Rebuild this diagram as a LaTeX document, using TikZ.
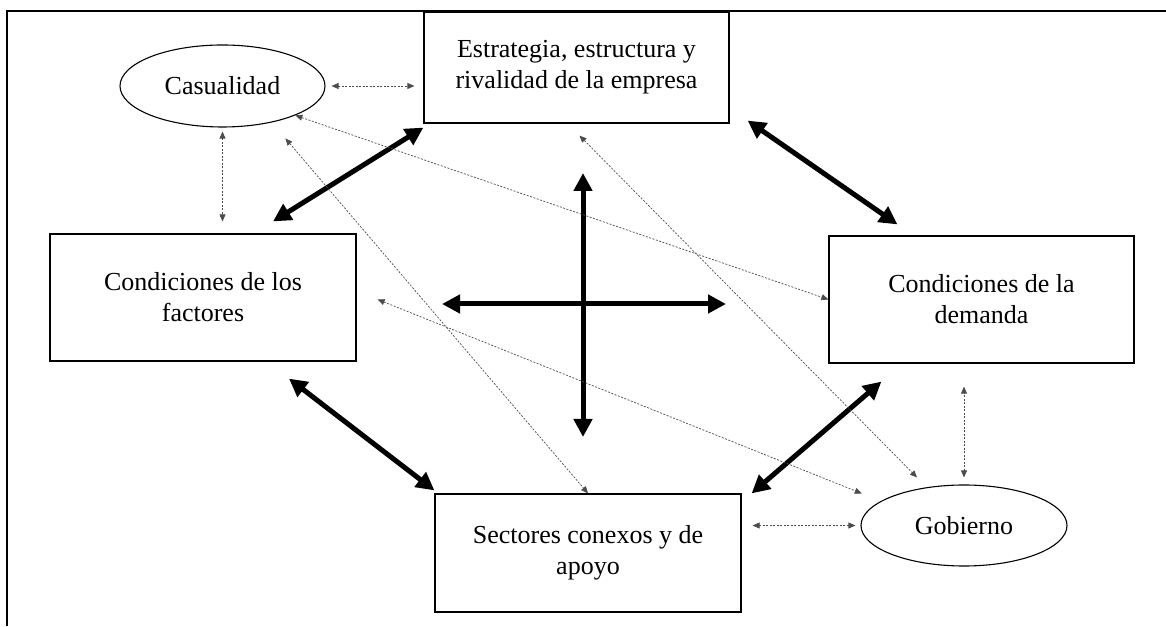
\documentclass[tikz,border=0pt]{standalone}
\usepackage{fontspec}
\setmainfont{Liberation Serif}
\usetikzlibrary{arrows.meta,shapes.geometric}

\begin{document}
\begin{tikzpicture}[x=1pt,y=1pt,
  box/.style={draw,line width=1.2pt,inner sep=0pt,align=center,font=\fontsize{26}{31}\selectfont},
  oval/.style={draw,ellipse,line width=1.1pt,inner sep=0pt,font=\fontsize{26}{31}\selectfont},
  strong/.style={{Triangle[length=18pt,width=18pt]}-{Triangle[length=18pt,width=18pt]},line width=5pt},
  weak/.style={{Triangle[length=7pt,width=6pt]}-{Triangle[length=7pt,width=6pt]},line width=0.7pt,black!70,dash pattern=on 2pt off 1.5pt}
]
\useasboundingbox (0,0) rectangle (1166,626);
\draw[line width=2pt] (7,0) |- (1166,615);
% the four determinants
\node[box,minimum width=305pt,minimum height=111pt] (estr) at (576.5,558.5) {Estrategia, estructura y\\rivalidad de la empresa};
\node[box,minimum width=306pt,minimum height=127pt] (fact) at (203,328.5) {Condiciones de los\\factores};
\node[box,minimum width=305pt,minimum height=127pt] (dem) at (981.5,326.5) {Condiciones de la\\demanda};
\node[box,minimum width=306pt,minimum height=118pt] (sect) at (588,73) {Sectores conexos y de\\apoyo};
% outside influences
\node[oval,minimum width=205pt,minimum height=82pt] (cas) at (222.5,540) {Casualidad};
\node[oval,minimum width=206pt,minimum height=81pt] (gob) at (964,100.5) {Gobierno};
\coordinate (cross) at (583,322);
% main links
\draw[strong] ([xshift=70pt,yshift=12pt]fact.north) -- ([yshift=-4pt]estr.south west);
\draw[strong] ([xshift=18pt,yshift=3pt]estr.south east) -- ([xshift=69pt,yshift=11pt]dem.north west);
\draw[strong] ([xshift=86pt,yshift=-17pt]fact.south) -- ([yshift=3pt]sect.north west);
\draw[strong] ([xshift=53pt,yshift=-18pt]dem.south west) -- ([xshift=10pt]sect.north east);
\draw[strong] ([yshift=131pt]cross) -- ([yshift=-133pt]cross);
\draw[strong] ([xshift=-141pt]cross) -- ([xshift=143pt]cross);
% secondary links
\draw[weak,shorten <=6pt,shorten >=9pt] (cas.east) -- (cas.east -| estr.west);
\draw[weak,shorten <=4pt,shorten >=12pt] (cas.south) -- (cas.south |- fact.north);
\draw[weak] (cas.south east) -- (dem.west);
\draw[weak] ([shift={(-10pt,-23pt)}]cas.south east) -- (sect.north);
\draw[weak] ([shift={(3pt,-12pt)}]estr.south) -- ([shift={(-47pt,7pt)}]gob.north);
\draw[weak] ([shift={(21pt,-2pt)}]fact.east) -- ([shift={(-29pt,3pt)}]gob.north west);
\draw[weak,shorten <=5pt,shorten >=11pt] (gob.west) -- (gob.west -| sect.east);
\draw[weak,shorten <=7pt,shorten >=23pt] (gob.north) -- (gob.north |- dem.south);
\end{tikzpicture}
\end{document}
